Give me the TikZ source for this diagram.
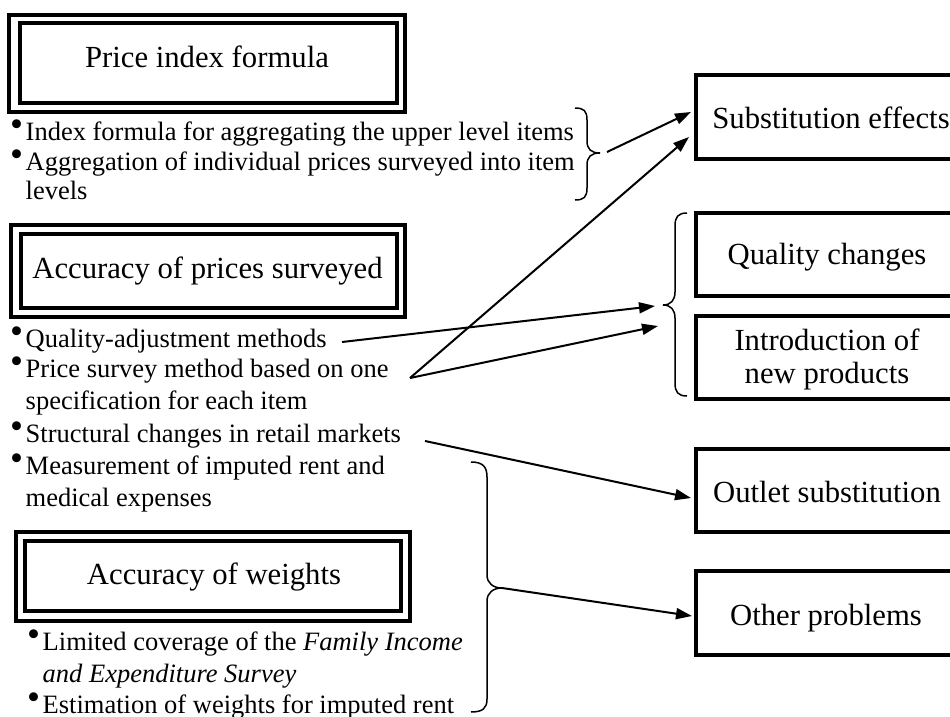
\documentclass[tikz,border=0pt]{standalone}
\usepackage{fontspec}
\setmainfont{Liberation Serif}
\usetikzlibrary{arrows.meta}
\newcommand{\bul}{\makebox[15.5pt][l]{\raisebox{3.8pt}{\scalebox{1.4}{•}}}}
\begin{document}
\begin{tikzpicture}[x=1pt,y=-1pt,
  big/.style={font=\fontsize{30.7}{34}\selectfont, inner sep=0pt, anchor=base},
  txt/.style={font=\fontsize{26.5}{30}\selectfont, inner sep=0pt, anchor=base west},
  frame/.style={draw, line width=4pt, inner sep=0pt, outer sep=0pt},
  arr/.style={line width=2pt, -{Triangle[length=16pt,width=11pt]}},
  brc/.style={line width=1.5pt},
]
\useasboundingbox (0,0) rectangle (950,717);
\clip (0,0) rectangle (950,717);

% double-framed boxes (left column)
\node[frame, minimum width=396pt, minimum height=97pt] (pifo) at (207,63.5) {};
\node[frame, minimum width=377pt, minimum height=79.5pt] (pifi) at (208,63.25) {};
\node[big] (pift) at (207,67) {Price index formula};

\node[frame, minimum width=394pt, minimum height=92pt] (apso) at (208,271) {};
\node[frame, minimum width=376pt, minimum height=74pt] (apsi) at (208.5,271) {};
\node[big] (apst) at (207.5,278) {Accuracy of prices surveyed};

\node[frame, minimum width=394.5pt, minimum height=88.5pt] (awo) at (212.75,576.25) {};
\node[frame, minimum width=375.5pt, minimum height=70pt] (awi) at (212.75,576) {};
\node[big] (awt) at (214,584) {Accuracy of weights};

% bullet texts
\node[txt] (t1a) at (10,140) {\bul Index formula for aggregating the upper level items};
\node[txt] (t1b) at (10,170) {\bul Aggregation of individual prices surveyed into item};
\node[txt] (t1c) at (25.5,199) {levels};
\node[txt] (t2a) at (10,347) {\bul Quality-adjustment methods};
\node[txt] (t2b) at (10,377) {\bul Price survey method based on one};
\node[txt] (t2c) at (25.5,409) {specification for each item};
\node[txt] (t2d) at (10,442) {\bul Structural changes in retail markets};
\node[txt] (t2e) at (10,474) {\bul Measurement of imputed rent and};
\node[txt] (t2f) at (25.5,506) {medical expenses};
\node[txt] (t3a) at (27,650) {\bul Limited coverage of the \textit{Family Income}};
\node[txt] (t3b) at (42.5,682) {\textit{and Expenditure Survey}};
\node[txt] (t3c) at (27,713) {\bul Estimation of weights for imputed rent};

% right column boxes
\node[frame, minimum width=280pt, minimum height=84pt] (sub) at (835.5,117) {};
\node[big] (subt) at (831,128) {Substitution effects};
\node[frame, minimum width=280pt, minimum height=82.5pt] (qc) at (835.5,254.25) {};
\node[big] (qct) at (827,264) {Quality changes};
\node[frame, minimum width=280pt, minimum height=83.5pt] (inp) at (835.5,357.25) {};
\node[big] (inpa) at (827,350) {Introduction of};
\node[big] (inpb) at (827,383) {new products};
\node[frame, minimum width=280pt, minimum height=83pt] (out) at (835.5,490) {};
\node[big] (outt) at (827,502) {Outlet substitution};
\node[frame, minimum width=280pt, minimum height=84pt] (oth) at (835.5,612.5) {};
\node[big] (otht) at (826,625) {Other problems};

% braces
\draw[brc] (575,108) .. controls (584,108) and (587,111) .. (587,120) -- (587,141)
  .. controls (587,149) and (591,153) .. (600,153)
  .. controls (591,153) and (587,157) .. (587,165) -- (587,188)
  .. controls (587,197) and (584,200) .. (575,200);
\draw[brc] (687,213) .. controls (678,213) and (675,217) .. (675,226) -- (675,292)
  .. controls (675,300) and (671,305) .. (663,305)
  .. controls (671,305) and (675,310) .. (675,318) -- (675,383)
  .. controls (675,392) and (678,396) .. (687,396);
\draw[brc] (471,462) .. controls (483,462) and (487,467) .. (487,477) -- (487,575)
  .. controls (487,583) and (493,588) .. (502,588)
  .. controls (493,588) and (487,593) .. (487,601) -- (487,699)
  .. controls (487,708) and (483,712) .. (471,712);

% connector end points
\coordinate (s1) at (607,152);
\coordinate (e1) at (691,112);
\coordinate (s2) at (410,378);
\coordinate (e2) at (689,137);
\coordinate (s3) at (342,342);
\coordinate (e3) at (655,306);
\coordinate (e4) at (658,326);
\coordinate (s5) at (425,441);
\coordinate (e5) at (691,498);
\coordinate (s6) at (502,588);
\coordinate (e6) at (692,616);

\draw[arr] (s1) -- (e1);
\draw[arr] (s2) -- (e2);
\draw[arr] (s3) -- (e3);
\draw[arr] (s2) -- (e4);
\draw[arr] (s5) -- (e5);
\draw[arr] (s6) -- (e6);
\end{tikzpicture}
\end{document}
